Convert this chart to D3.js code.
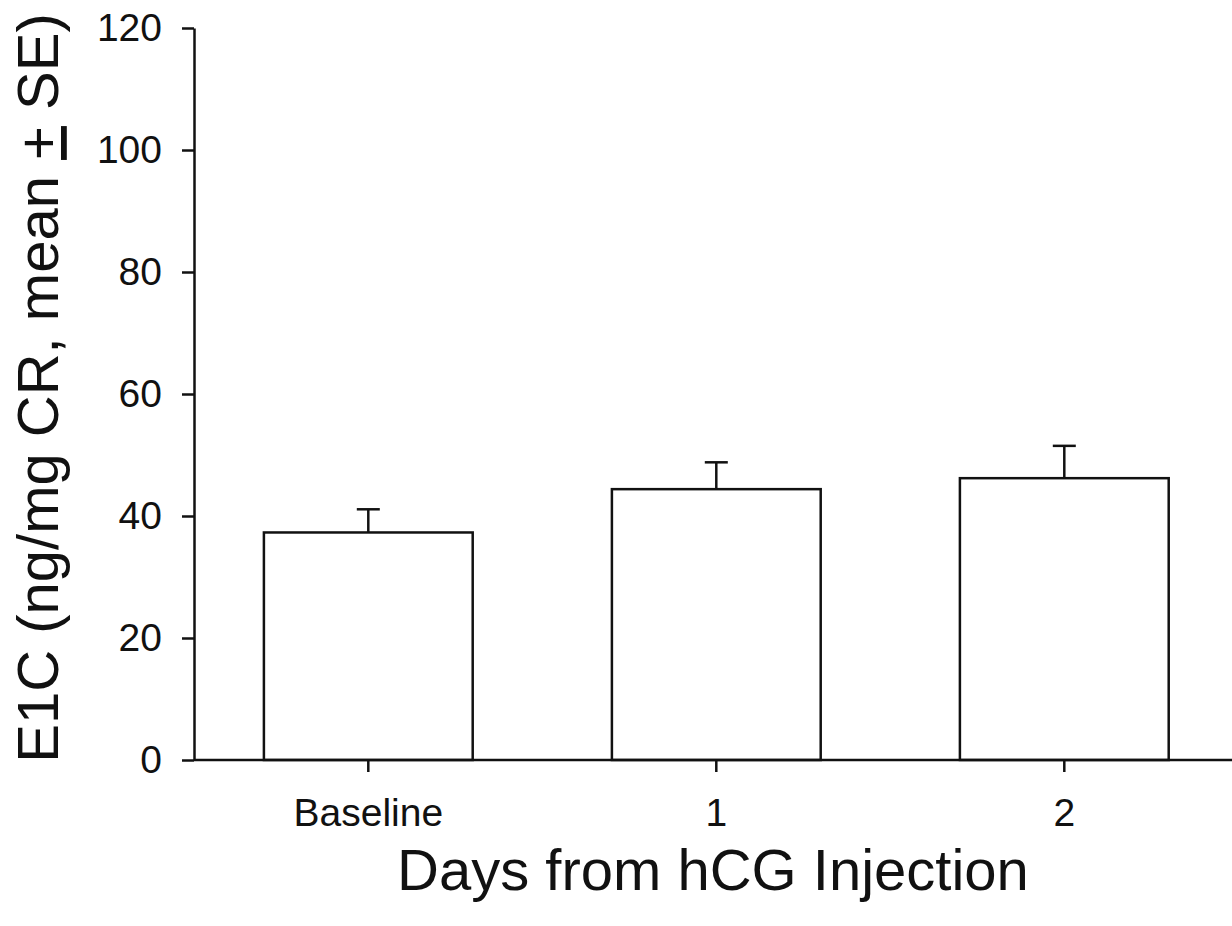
<!DOCTYPE html>
<html>
<head>
<meta charset="utf-8">
<script src="https://cdn.jsdelivr.net/npm/d3@7"></script>
<style>
  html, body { margin: 0; padding: 0; background: #fff; }
  svg { display: block; font-family: "Liberation Sans", Arial, sans-serif; }
</style>
</head>
<body>
<svg id="chart" width="1232" height="926"></svg>
<script>
const categories = ["Baseline", "1", "2"];
const means = [37.3, 44.4, 46.2];
const errors = [3.8, 4.4, 5.3];
const yTicks = [0, 20, 40, 60, 80, 100, 120];

const svg = d3.select("#chart");
const x0 = 194, yTop = 28, yBottom = 760;

const x = d3.scaleBand().domain(categories).range([194.3, 1238.3])
  .paddingInner(0.4).paddingOuter(0.2);
const y = d3.scaleLinear().domain([0, 120]).range([yBottom, yTop]);

// Bars
svg.append("g").selectAll("rect").data(categories).join("rect")
  .attr("x", d => x(d))
  .attr("y", (d, i) => y(means[i]))
  .attr("width", x.bandwidth())
  .attr("height", (d, i) => y(0) - y(means[i]))
  .attr("fill", "#fff")
  .attr("stroke", "#111")
  .attr("stroke-width", 2.5);

// Error bars
const eb = svg.append("g").attr("stroke", "#111").attr("stroke-width", 2.5);
categories.forEach((c, i) => {
  const cx = x(c) + x.bandwidth() / 2;
  eb.append("line").attr("x1", cx).attr("x2", cx)
    .attr("y1", y(means[i])).attr("y2", y(means[i] + errors[i]));
  eb.append("line").attr("x1", cx - 11.5).attr("x2", cx + 11.5)
    .attr("y1", y(means[i] + errors[i])).attr("y2", y(means[i] + errors[i]));
});

// Y axis
const yAxis = svg.append("g").attr("transform", `translate(${x0},0)`)
  .call(d3.axisLeft(y).tickValues(yTicks).tickSize(12).tickPadding(20).tickSizeOuter(0));
yAxis.select(".domain").attr("stroke", "#111").attr("stroke-width", 2.5);
yAxis.selectAll(".tick line").attr("stroke", "#111").attr("stroke-width", 2.5);
yAxis.selectAll(".tick text").attr("font-size", 39).attr("fill", "#111")
  .attr("font-family", "'Liberation Sans', Arial, sans-serif");

// X axis
const xAxis = svg.append("g").attr("transform", `translate(0,${yBottom})`)
  .call(d3.axisBottom(x).tickSize(12).tickSizeOuter(0));
xAxis.select(".domain").attr("d", `M${x0},0H1240`).attr("stroke", "#111").attr("stroke-width", 2.5);
xAxis.selectAll(".tick line").attr("stroke", "#111").attr("stroke-width", 2.5);
xAxis.selectAll(".tick text").attr("font-size", 39).attr("fill", "#111")
  .attr("y", 66).attr("dy", 0)
  .attr("font-family", "'Liberation Sans', Arial, sans-serif");

// X title
svg.append("text")
  .attr("x", 713).attr("y", 890)
  .attr("text-anchor", "middle")
  .attr("font-size", 58).attr("fill", "#111")
  .text("Days from hCG Injection");

// Y title
const yt = svg.append("text")
  .attr("transform", "translate(58,388) rotate(-90)")
  .attr("text-anchor", "middle")
  .attr("font-size", 58).attr("fill", "#111");
yt.append("tspan").text("E1C (ng/mg CR, mean ");
yt.append("tspan").attr("text-decoration", "underline").text("+");
yt.append("tspan").text(" SE)");
</script>
</body>
</html>
